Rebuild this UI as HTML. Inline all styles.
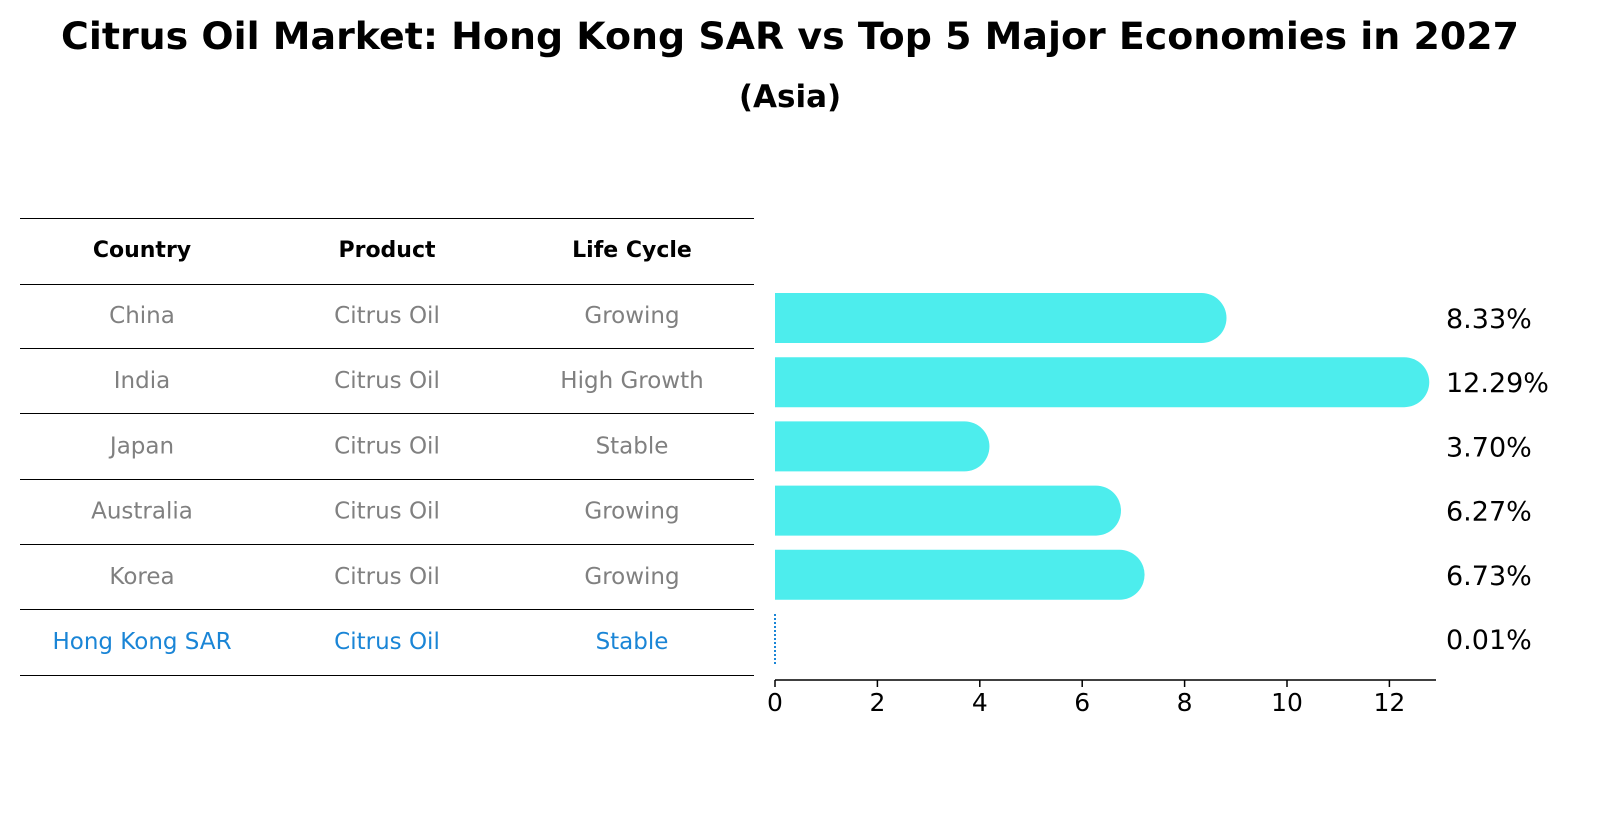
<!DOCTYPE html>
<html><head><meta charset="utf-8">
<style>
body{margin:0;background:#fff;font-family:"DejaVu Sans","Liberation Sans",sans-serif;}
svg text{font-family:"DejaVu Sans","Liberation Sans",sans-serif;}
</style></head>
<body>
<svg id="chart" width="1604" height="823" viewBox="0 0 1604 823" xmlns="http://www.w3.org/2000/svg">
<rect width="1604" height="823" fill="#fff"/>
<text x="790" y="49" text-anchor="middle" font-size="37" font-weight="bold" textLength="1458" lengthAdjust="spacingAndGlyphs">Citrus Oil Market: Hong Kong SAR vs Top 5 Major Economies in 2027</text>
<text x="790" y="107" text-anchor="middle" font-size="31" font-weight="bold">(Asia)</text>
<g id="table"></g>
<g id="bars"></g>
<g id="axis"></g>
</svg>
<script>
const countries=["China","India","Japan","Australia","Korea","Hong Kong SAR"];
const products=["Citrus Oil","Citrus Oil","Citrus Oil","Citrus Oil","Citrus Oil","Citrus Oil"];
const lifeCycles=["Growing","High Growth","Stable","Growing","Growing","Stable"];
const values=[8.33,12.29,3.70,6.27,6.73,0.01];
const valueLabels=["8.33%","12.29%","3.70%","6.27%","6.73%","0.01%"];
const ticks=[0,2,4,6,8,10,12];
const NS="http://www.w3.org/2000/svg";
function mk(tag,attrs,parent){const e=document.createElementNS(NS,tag);for(const k in attrs)e.setAttribute(k,attrs[k]);parent.appendChild(e);return e;}
const x0=775,xs=51.2;
function xScale(v){return x0+v*xs;}
function yRow(i){return 318+i*64.2;}
const table=document.getElementById('table');
const bars=document.getElementById('bars');
const axis=document.getElementById('axis');
const lineYs=[218,284,348,413,479,544,609,675];
lineYs.forEach((y,i)=>{const l=mk('line',{x1:20,x2:754,y1:y+0.5,y2:y+0.5,stroke:'#000','stroke-width':1},table);

});
const colX=[142,387,632];
["Country","Product","Life Cycle"].forEach((h,j)=>{const t=mk('text',{x:colX[j],y:257,'text-anchor':'middle','font-size':22,'font-weight':'bold'},table);t.textContent=h;

});
countries.forEach((c,i)=>{
 const y=323+i*65.2;
 const col=i===countries.length-1?'#1a85d6':'#808080';
 [c,products[i],lifeCycles[i]].forEach((v,j)=>{const t=mk('text',{x:colX[j],y:y,'text-anchor':'middle','font-size':23,fill:col},table);t.textContent=v;
 
 });
});
const bh=50,r=25;
values.forEach((v,i)=>{
 const yc=yRow(i);
 const xe=xScale(v);
 if(v<0.5){
  const l=mk('line',{x1:x0,x2:x0,y1:yc-bh/2,y2:yc+bh/2,stroke:'#1a85d6','stroke-width':2,'stroke-dasharray':'2,2'},bars);
  
  
 } else {
  const p=mk('path',{d:`M${x0},${yc-bh/2} H${xe} A${r},${r} 0 0 1 ${xe},${yc+bh/2} H${x0} Z`,fill:'#4deded'},bars);
  
  
 }
 const t=mk('text',{x:1446,y:yc+10,'font-size':27},bars);
 t.textContent=valueLabels[i];
 
 
});
const al=mk('line',{x1:x0,x2:1436,y1:680,y2:680,stroke:'#000','stroke-width':1.5},axis);


ticks.forEach(v=>{
 const x=xScale(v);
 const tl=mk('line',{x1:x,x2:x,y1:680,y2:687,stroke:'#000','stroke-width':1.5},axis);
 
 
 const t=mk('text',{x:x,y:711,'text-anchor':'middle','font-size':25},axis);
 t.textContent=v;
 
 
});
</script>
</body></html>
